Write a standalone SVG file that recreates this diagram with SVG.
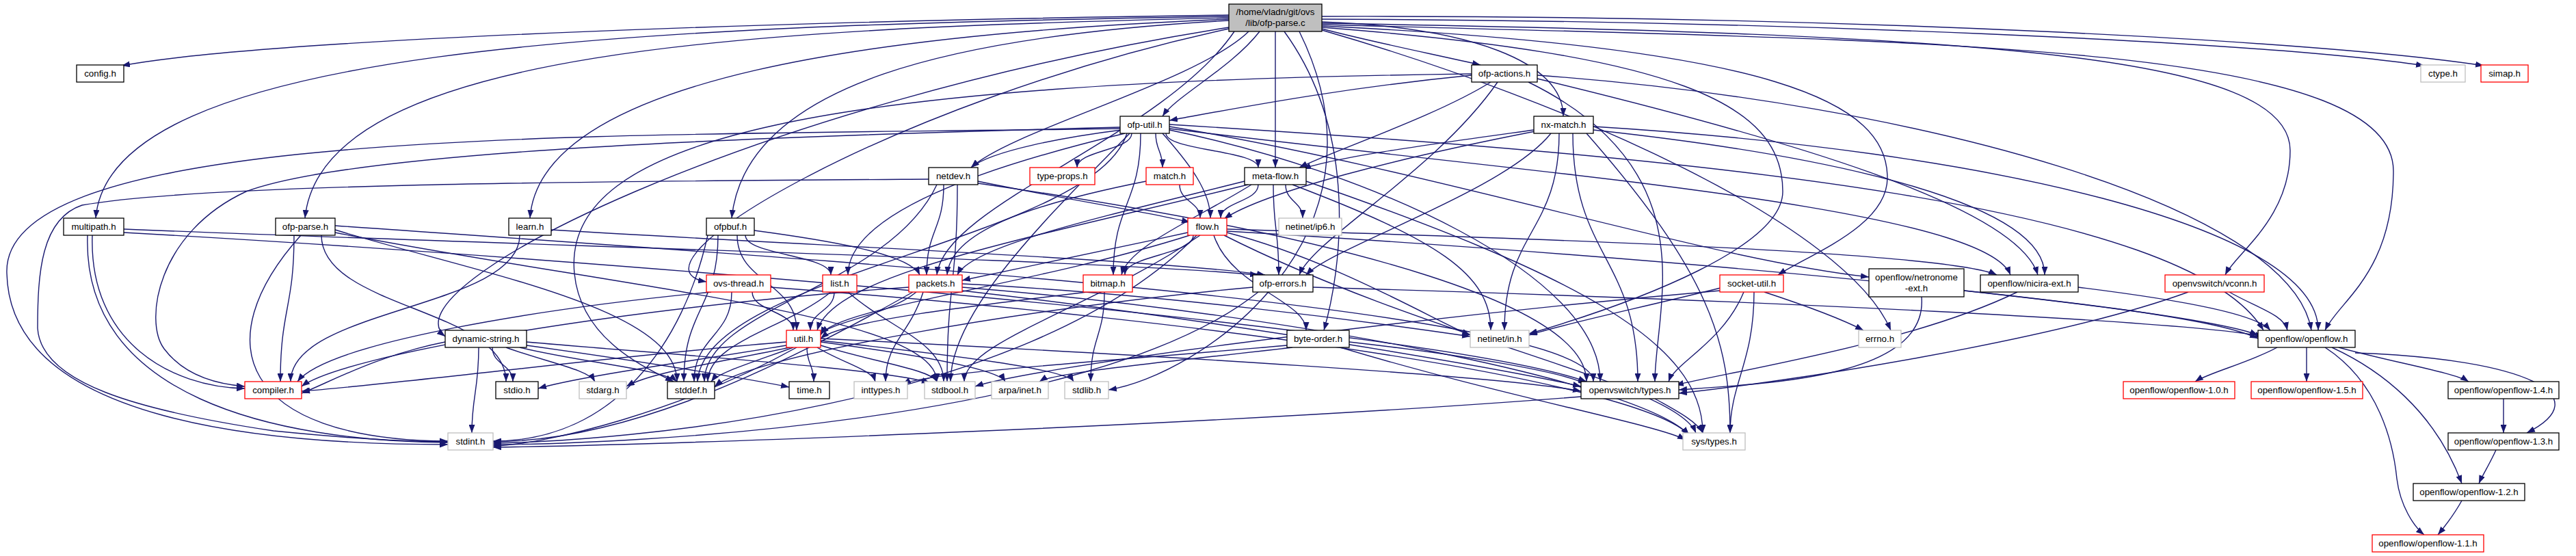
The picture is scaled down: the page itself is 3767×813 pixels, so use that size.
<svg xmlns="http://www.w3.org/2000/svg" width="3767" height="813" viewBox="0 0 3767 813">
<defs>
<marker id="a" viewBox="0 0 12 9" refX="12" refY="4.5" markerWidth="12" markerHeight="9" markerUnits="userSpaceOnUse" orient="auto"><path d="M0,0 L12,4.5 L0,9 z" fill="#191970"/></marker>
<style>
.e path{fill:none;stroke:#191970;stroke-width:1.4;marker-end:url(#a)}
rect{fill:#fff;stroke-width:1.3}
.b rect{stroke:#000}
.r rect{stroke:#ff0000}
.g rect{stroke:#bfbfbf}
.m rect{fill:#bfbfbf;stroke:#000}
text{font-family:"Liberation Sans",Arial,Helvetica,sans-serif;font-size:13.33px;text-anchor:middle;fill:#000}
</style>
</defs>
<rect x="0" y="0" width="3767" height="813" fill="#fff" stroke="none"/>
<g id="edges" class="e">
<path d="M1797,22 C1200,30 400,55 178,96"/>
<path d="M1797,24 C900,38 160,70 140,319"/>
<path d="M1797,26 C1100,42 470,70 446,319"/>
<path d="M1797,28 C1300,48 790,110 775,319"/>
<path d="M1797,30 C1400,52 1090,120 1070,319"/>
<path d="M1797,40 C1100,150 560,420 651,492"/>
<path d="M1797,42 C1300,150 900,390 1033,412"/>
<path d="M1805,46 C1700,200 1380,300 1370,402"/>
<path d="M1826,46 C1750,120 1480,190 1420,245"/>
<path d="M1842,46 C1800,100 1720,140 1700,170"/>
<path d="M1865,46 L1865,245"/>
<path d="M1878,46 C1990,200 1960,400 1936,483"/>
<path d="M1933,42 C2000,60 2100,80 2165,95"/>
<path d="M1933,32 C2150,40 2286,90 2286,170"/>
<path d="M1933,28 C2600,30 3300,60 3545,96"/>
<path d="M1933,24 C2700,22 3400,60 3632,96"/>
<path d="M1933,36 C2800,60 3500,60 3500,250 C3500,400 3420,440 3400,483"/>
<path d="M1933,34 C2900,50 3349,80 3349,220 C3349,320 3270,370 3254,402"/>
<path d="M1933,38 C2600,70 2760,150 2760,260 C2760,330 2650,370 2600,402"/>
<path d="M1933,40 C2450,80 2607,150 2607,280 C2607,360 2400,440 2236,488"/>
<path d="M1933,44 C2300,150 2700,330 2765,483"/>
<path d="M1900,46 C2050,350 1750,550 1621,570"/>
<path d="M430,344 C430,451 410,451 410,558"/>
<path d="M440,344 C300,500 350,643 655,645"/>
<path d="M470,344 C470,451 740,451 740,558"/>
<path d="M490,336 C700,400 990,450 990,558"/>
<path d="M490,340 C900,420 1370,460 1370,558"/>
<path d="M490,330 C1200,380 2330,450 2330,558"/>
<path d="M135,344 C130,500 250,566 358,568"/>
<path d="M128,344 C120,580 400,645 655,647"/>
<path d="M181,335 C800,360 1600,380 1840,402"/>
<path d="M181,340 C900,380 2100,480 2320,558"/>
<path d="M760,344 C760,451 425,451 425,558"/>
<path d="M806,336 C1200,360 1700,380 1850,402"/>
<path d="M1050,344 C1050,451 1000,451 1000,558"/>
<path d="M1035,344 C1000,500 900,645 721,645"/>
<path d="M1090,344 C1090,373 1215,373 1215,402"/>
<path d="M1103,337 C1200,350 1330,370 1345,402"/>
<path d="M1078,344 C1078,413 1165,413 1165,483"/>
<path d="M1640,190 C1560,200 1450,220 1420,245"/>
<path d="M1655,195 C1655,220 1575,220 1575,245"/>
<path d="M1690,195 C1690,220 1700,220 1700,245"/>
<path d="M1705,195 C1705,220 1840,220 1840,245"/>
<path d="M1700,195 C1740,240 1770,280 1770,319"/>
<path d="M1668,195 C1668,298 1628,298 1628,402"/>
<path d="M1645,195 C1500,230 1240,300 1240,402"/>
<path d="M1638,186 C1100,200 520,220 360,280 C230,340 210,470 240,510 C270,550 320,562 358,565"/>
<path d="M1638,188 C900,200 0,180 10,400 C15,620 400,650 655,650"/>
<path d="M1648,195 C1600,350 1030,400 1020,558"/>
<path d="M1652,195 C1550,300 1390,450 1390,558"/>
<path d="M1710,190 C2000,250 2340,400 2340,558"/>
<path d="M1710,185 C2100,250 2500,380 2733,405"/>
<path d="M1710,188 C2200,250 2900,300 2940,402"/>
<path d="M1710,182 C2500,230 3200,300 3310,483"/>
<path d="M2152,110 C1950,130 1800,160 1710,176"/>
<path d="M2180,120 C2100,170 1950,220 1900,245"/>
<path d="M2190,120 C2100,250 1920,350 1900,402"/>
<path d="M2248,115 C2600,200 2950,300 2980,402"/>
<path d="M2248,110 C2800,150 3350,300 3380,483"/>
<path d="M2235,120 C2500,250 2420,450 2420,558"/>
<path d="M2152,108 C1200,120 820,200 840,400 C850,500 950,540 985,558"/>
<path d="M2243,190 C2100,210 1950,230 1905,247"/>
<path d="M2245,192 C2050,230 1850,280 1790,320"/>
<path d="M2268,195 C2200,280 1950,360 1910,402"/>
<path d="M2280,195 C2280,339 2200,339 2200,483"/>
<path d="M2300,195 C2300,376 2395,376 2395,558"/>
<path d="M2330,190 C2700,230 2990,300 2990,402"/>
<path d="M2330,185 C2900,220 3390,330 3390,483"/>
<path d="M2320,195 C2500,400 2530,500 2530,633"/>
<path d="M1430,265 C1550,290 1680,310 1740,325"/>
<path d="M1380,270 C1380,336 1355,336 1355,402"/>
<path d="M1400,270 C1400,414 1385,414 1385,558"/>
<path d="M1370,270 C1300,420 1030,450 1030,558"/>
<path d="M1358,262 C900,265 300,268 120,300 C60,320 55,400 55,480 C60,560 200,600 400,630 C550,645 620,646 655,646"/>
<path d="M1430,268 C2000,350 2320,450 2320,558"/>
<path d="M1725,270 C1725,295 1755,295 1755,319"/>
<path d="M1676,265 C1500,300 1390,340 1385,402"/>
<path d="M1840,270 C1840,295 1785,295 1785,319"/>
<path d="M1880,270 C1880,295 1905,295 1905,319"/>
<path d="M1830,270 C1750,320 1650,360 1640,402"/>
<path d="M1862,270 C1862,336 1870,336 1870,402"/>
<path d="M1820,265 C1600,320 1420,360 1400,402"/>
<path d="M1825,270 C1500,350 1220,400 1195,483"/>
<path d="M1890,270 C2100,350 2180,400 2180,483"/>
<path d="M1910,265 C2300,400 2490,500 2490,633"/>
<path d="M1775,344 C1800,420 1910,440 1910,483"/>
<path d="M1794,340 C1950,380 2100,470 2150,490"/>
<path d="M1755,344 C1600,450 1410,500 1410,558"/>
<path d="M1750,344 C1500,600 900,645 721,648"/>
<path d="M1745,344 C1745,373 1645,373 1645,402"/>
<path d="M1737,340 C1600,370 1450,400 1407,410"/>
<path d="M1740,344 C1500,420 1220,450 1200,490"/>
<path d="M1794,335 C2300,350 2850,370 2920,402"/>
<path d="M1794,338 C2500,380 3200,450 3302,490"/>
<path d="M1790,344 C2100,500 2450,560 2480,633"/>
<path d="M1100,427 C1100,455 1160,455 1160,483"/>
<path d="M1070,427 C1070,492 1015,492 1015,558"/>
<path d="M1040,427 C800,450 480,500 435,558"/>
<path d="M1127,420 C1800,470 2400,560 2470,636"/>
<path d="M1220,427 C1220,455 1185,455 1185,483"/>
<path d="M1215,427 C1150,480 1035,500 1035,558"/>
<path d="M1240,427 C1300,480 1380,500 1380,558"/>
<path d="M1340,427 C1300,460 1220,470 1200,488"/>
<path d="M1350,427 C1330,490 1295,500 1295,558"/>
<path d="M1407,420 C1900,460 2400,560 2470,636"/>
<path d="M1335,427 C1100,560 900,645 721,646"/>
<path d="M1329,420 C900,450 500,520 441,565"/>
<path d="M1407,425 C1800,470 2200,540 2312,565"/>
<path d="M1407,415 C1700,430 2000,470 2150,492"/>
<path d="M1590,427 C1400,450 1230,470 1200,495"/>
<path d="M1615,427 C1615,492 1595,492 1595,558"/>
<path d="M1832,420 C1500,450 1100,520 1045,565"/>
<path d="M1840,427 C1600,620 900,650 721,650"/>
<path d="M1920,420 C2600,440 3200,470 3310,492"/>
<path d="M2580,427 C2650,450 2700,470 2725,483"/>
<path d="M2520,420 C2400,450 2280,475 2236,490"/>
<path d="M2515,425 C2000,470 1500,540 1426,565"/>
<path d="M2550,427 C2520,500 2450,530 2440,558"/>
<path d="M2565,427 C2565,530 2530,560 2530,633"/>
<path d="M2872,425 C3100,450 3250,470 3302,495"/>
<path d="M2810,434 C2820,550 2600,560 2455,570"/>
<path d="M3039,420 C3200,440 3300,460 3320,483"/>
<path d="M2950,427 C2800,500 2550,540 2450,563"/>
<path d="M3260,427 C3300,450 3340,460 3345,483"/>
<path d="M3200,427 C3000,500 2600,560 2455,575"/>
<path d="M651,500 C550,520 480,560 441,575"/>
<path d="M720,508 C720,533 750,533 750,558"/>
<path d="M740,508 C800,530 860,540 870,558"/>
<path d="M760,508 C850,530 970,540 990,558"/>
<path d="M770,505 C950,530 1100,555 1154,566"/>
<path d="M700,508 C700,570 690,580 690,633"/>
<path d="M770,500 C1000,520 1300,540 1360,560"/>
<path d="M1150,500 C900,520 600,560 441,572"/>
<path d="M1150,505 C1000,530 850,550 787,568"/>
<path d="M1155,508 C1050,530 950,545 916,565"/>
<path d="M1160,508 C1100,530 1050,545 1040,558"/>
<path d="M1180,508 C1180,533 1190,533 1190,558"/>
<path d="M1195,508 C1230,530 1275,540 1280,558"/>
<path d="M1200,505 C1280,530 1360,540 1370,558"/>
<path d="M1200,500 C1350,520 1460,540 1470,558"/>
<path d="M1200,498 C1400,520 1560,540 1570,558"/>
<path d="M1165,508 C1000,600 800,650 721,652"/>
<path d="M1200,495 C1700,520 2200,550 2312,572"/>
<path d="M1890,508 C1700,530 1540,545 1520,558"/>
<path d="M1882,505 C1600,530 1350,545 1320,562"/>
<path d="M1973,500 C2150,520 2290,545 2320,562"/>
<path d="M1960,508 C2200,580 2420,620 2465,643"/>
<path d="M2420,583 C2450,600 2480,615 2490,633"/>
<path d="M2312,580 C1800,620 1000,650 721,654"/>
<path d="M3330,508 C3290,530 3230,545 3210,558"/>
<path d="M3373,508 L3373,558"/>
<path d="M3420,508 C3500,530 3590,545 3610,558"/>
<path d="M3444,516 C3700,525 3800,580 3695,633"/>
<path d="M3410,508 C3480,540 3560,600 3600,707"/>
<path d="M3400,508 C3480,560 3500,650 3505,700 C3510,740 3530,770 3545,782"/>
<path d="M3661,583 L3661,633"/>
<path d="M3650,658 C3640,680 3630,695 3625,707"/>
<path d="M3600,732 C3590,750 3575,770 3565,782"/>
</g>
<g id="n-main" class="m"><rect x="1797" y="6" width="136" height="40"/><text x="1865" y="22">/home/vladn/git/ovs</text><text x="1865" y="38">/lib/ofp-parse.c</text></g>
<g id="n-config" class="b"><rect x="112" y="95" width="69" height="25"/><text x="146.5" y="112">config.h</text></g>
<g id="n-ofp-actions" class="b"><rect x="2152" y="95" width="96" height="25"/><text x="2200" y="112">ofp-actions.h</text></g>
<g id="n-ctype" class="g"><rect x="3540" y="95" width="65" height="25"/><text x="3572.5" y="112">ctype.h</text></g>
<g id="n-simap" class="r"><rect x="3628" y="95" width="69" height="25"/><text x="3662.5" y="112">simap.h</text></g>
<g id="n-ofp-util" class="b"><rect x="1638" y="170" width="72" height="25"/><text x="1674" y="187">ofp-util.h</text></g>
<g id="n-nx-match" class="b"><rect x="2243" y="170" width="87" height="25"/><text x="2286.5" y="187">nx-match.h</text></g>
<g id="n-netdev" class="b"><rect x="1358" y="245" width="72" height="25"/><text x="1394" y="262">netdev.h</text></g>
<g id="n-type-props" class="r"><rect x="1506" y="245" width="95" height="25"/><text x="1553.5" y="262">type-props.h</text></g>
<g id="n-match" class="r"><rect x="1676" y="245" width="69" height="25"/><text x="1710.5" y="262">match.h</text></g>
<g id="n-meta-flow" class="b"><rect x="1820" y="245" width="90" height="25"/><text x="1865" y="262">meta-flow.h</text></g>
<g id="n-multipath" class="b"><rect x="93" y="319" width="88" height="25"/><text x="137" y="336">multipath.h</text></g>
<g id="n-ofp-parse-h" class="b"><rect x="403" y="319" width="87" height="25"/><text x="446.5" y="336">ofp-parse.h</text></g>
<g id="n-learn" class="b"><rect x="744" y="319" width="62" height="25"/><text x="775" y="336">learn.h</text></g>
<g id="n-ofpbuf" class="b"><rect x="1033" y="319" width="70" height="25"/><text x="1068" y="336">ofpbuf.h</text></g>
<g id="n-flow" class="r"><rect x="1737" y="319" width="57" height="25"/><text x="1765.5" y="336">flow.h</text></g>
<g id="n-ip6" class="g"><rect x="1870" y="319" width="92" height="25"/><text x="1916" y="336">netinet/ip6.h</text></g>
<g id="n-ovs-thread" class="r"><rect x="1033" y="402" width="94" height="25"/><text x="1080" y="419">ovs-thread.h</text></g>
<g id="n-list" class="r"><rect x="1203" y="402" width="50" height="25"/><text x="1228" y="419">list.h</text></g>
<g id="n-packets" class="r"><rect x="1329" y="402" width="78" height="25"/><text x="1368" y="419">packets.h</text></g>
<g id="n-bitmap" class="r"><rect x="1584" y="402" width="72" height="25"/><text x="1620" y="419">bitmap.h</text></g>
<g id="n-ofp-errors" class="b"><rect x="1832" y="402" width="88" height="25"/><text x="1876" y="419">ofp-errors.h</text></g>
<g id="n-socket-util" class="r"><rect x="2515" y="402" width="93" height="25"/><text x="2561.5" y="419">socket-util.h</text></g>
<g id="n-netronome" class="b"><rect x="2733" y="393" width="139" height="41"/><text x="2802.5" y="410">openflow/netronome</text><text x="2802.5" y="426">-ext.h</text></g>
<g id="n-nicira" class="b"><rect x="2896" y="402" width="143" height="25"/><text x="2967.5" y="419">openflow/nicira-ext.h</text></g>
<g id="n-vconn" class="r"><rect x="3166" y="402" width="145" height="25"/><text x="3238.5" y="419">openvswitch/vconn.h</text></g>
<g id="n-dynamic-string" class="b"><rect x="651" y="483" width="119" height="25"/><text x="710.5" y="500">dynamic-string.h</text></g>
<g id="n-util" class="r"><rect x="1150" y="483" width="50" height="25"/><text x="1175" y="500">util.h</text></g>
<g id="n-byte-order" class="b"><rect x="1882" y="483" width="91" height="25"/><text x="1927.5" y="500">byte-order.h</text></g>
<g id="n-in" class="g"><rect x="2150" y="483" width="86" height="25"/><text x="2193" y="500">netinet/in.h</text></g>
<g id="n-errno" class="g"><rect x="2718" y="483" width="62" height="25"/><text x="2749" y="500">errno.h</text></g>
<g id="n-openflow" class="b"><rect x="3302" y="483" width="142" height="25"/><text x="3373" y="500">openflow/openflow.h</text></g>
<g id="n-compiler" class="r"><rect x="358" y="558" width="83" height="25"/><text x="399.5" y="575">compiler.h</text></g>
<g id="n-stdio" class="b"><rect x="725" y="558" width="62" height="25"/><text x="756" y="575">stdio.h</text></g>
<g id="n-stdarg" class="g"><rect x="847" y="558" width="69" height="25"/><text x="881.5" y="575">stdarg.h</text></g>
<g id="n-stddef" class="b"><rect x="976" y="558" width="69" height="25"/><text x="1010.5" y="575">stddef.h</text></g>
<g id="n-time" class="b"><rect x="1154" y="558" width="59" height="25"/><text x="1183.5" y="575">time.h</text></g>
<g id="n-inttypes" class="g"><rect x="1249" y="558" width="78" height="25"/><text x="1288" y="575">inttypes.h</text></g>
<g id="n-stdbool" class="g"><rect x="1352" y="558" width="74" height="25"/><text x="1389" y="575">stdbool.h</text></g>
<g id="n-arpa" class="g"><rect x="1450" y="558" width="83" height="25"/><text x="1491.5" y="575">arpa/inet.h</text></g>
<g id="n-stdlib" class="g"><rect x="1557" y="558" width="64" height="25"/><text x="1589" y="575">stdlib.h</text></g>
<g id="n-ovs-types" class="b"><rect x="2312" y="558" width="143" height="25"/><text x="2383.5" y="575">openvswitch/types.h</text></g>
<g id="n-of10" class="r"><rect x="3105" y="558" width="163" height="25"/><text x="3186.5" y="575">openflow/openflow-1.0.h</text></g>
<g id="n-of15" class="r"><rect x="3292" y="558" width="163" height="25"/><text x="3373.5" y="575">openflow/openflow-1.5.h</text></g>
<g id="n-of14" class="b"><rect x="3580" y="558" width="162" height="25"/><text x="3661" y="575">openflow/openflow-1.4.h</text></g>
<g id="n-stdint" class="g"><rect x="655" y="633" width="66" height="25"/><text x="688" y="650">stdint.h</text></g>
<g id="n-systypes" class="g"><rect x="2461" y="633" width="91" height="25"/><text x="2506.5" y="650">sys/types.h</text></g>
<g id="n-of13" class="b"><rect x="3580" y="633" width="162" height="25"/><text x="3661" y="650">openflow/openflow-1.3.h</text></g>
<g id="n-of12" class="b"><rect x="3529" y="707" width="163" height="25"/><text x="3610.5" y="724">openflow/openflow-1.2.h</text></g>
<g id="n-of11" class="r"><rect x="3469" y="782" width="163" height="25"/><text x="3550.5" y="799">openflow/openflow-1.1.h</text></g>
</svg>
